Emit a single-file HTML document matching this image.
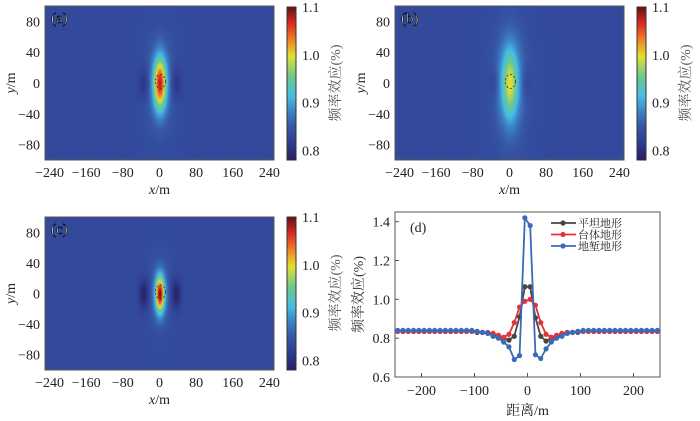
<!DOCTYPE html>
<html><head><meta charset="utf-8">
<style>
body{margin:0;background:#fff;width:700px;height:421px;overflow:hidden;position:relative;font-family:"Liberation Serif","Noto Serif CJK SC",serif}
canvas{position:absolute}
svg{position:absolute;left:0;top:0}
</style></head><body>
<canvas id="ha" width="229" height="154" style="left:45px;top:6px"></canvas>
<canvas id="hb" width="229" height="154" style="left:395px;top:6px"></canvas>
<canvas id="hc" width="229" height="153" style="left:45px;top:217px"></canvas>
<canvas id="cb1" width="9" height="153" style="left:287px;top:7px"></canvas>
<canvas id="cb2" width="9" height="153" style="left:637px;top:7px"></canvas>
<canvas id="cb3" width="9" height="153" style="left:287px;top:217px"></canvas>
<svg id="s" width="700" height="421"></svg>
<script>
// ---- Heatmap panel parameters ----
const hmPeak=[1.08,1.0,1.1];
const hmSigX=[13,16,9];
const hmSigY=[32,42,22];
const hmHalo=[0.06,0.07,0.07];
const hmDip=[0.035,0.02,0.05];
const hmBase=0.835;
const cbTicks=[0.8,0.9,1.0,1.1];
const xTicksMap=[-240,-160,-80,0,80,160,240];
const yTicksMap=[80,40,0,-40,-80];
// ---- Line chart data ----
const dist=[];for(let i=0;i<50;i++)dist.push(-245+10*i);
const flat=[0.835,0.835,0.835,0.835,0.835,0.835,0.835,0.835,0.835,0.835,0.835,0.835,0.835,0.835,0.835,0.83,0.83,0.825,0.82,0.81,0.80,0.79,0.81,0.91,1.065,1.065,0.905,0.81,0.785,0.80,0.81,0.82,0.825,0.83,0.83,0.835,0.835,0.835,0.835,0.835,0.835,0.835,0.835,0.835,0.835,0.835,0.835,0.835,0.835,0.835];
const mesa=[0.835,0.835,0.835,0.835,0.835,0.835,0.835,0.835,0.835,0.835,0.835,0.835,0.835,0.835,0.835,0.835,0.83,0.83,0.825,0.815,0.805,0.82,0.88,0.96,0.99,1.0,0.97,0.88,0.82,0.805,0.815,0.825,0.83,0.83,0.835,0.835,0.835,0.835,0.835,0.835,0.835,0.835,0.835,0.835,0.835,0.835,0.835,0.835,0.835,0.835];
const trench=[0.84,0.84,0.84,0.84,0.84,0.84,0.84,0.84,0.84,0.84,0.84,0.84,0.84,0.84,0.84,0.835,0.83,0.825,0.81,0.80,0.78,0.755,0.69,0.71,1.42,1.38,0.715,0.695,0.745,0.78,0.80,0.81,0.825,0.83,0.835,0.84,0.84,0.84,0.84,0.84,0.84,0.84,0.84,0.84,0.84,0.84,0.84,0.84,0.84,0.84];
const yTicksD=[0.6,0.8,1.0,1.2,1.4];
const xTicksD=[-200,-100,0,100,200];
const legendNames=["平坦地形","台体地形","地堑地形"];

const stops=[[0,[40,30,100]],[0.12,[48,62,148]],[0.22,[54,86,164]],[0.32,[60,130,200]],[0.42,[70,190,225]],[0.55,[110,200,140]],[0.68,[225,225,50]],[0.8,[240,120,35]],[0.9,[215,40,38]],[1,[100,20,18]]];
function cmap(v){let t=(v-0.78)/(1.1-0.78);t=Math.max(0,Math.min(1,t));
 for(let i=1;i<stops.length;i++){if(t<=stops[i][0]){const a=stops[i-1],b=stops[i],f=(t-a[0])/(b[0]-a[0]);return a[1].map((c,k)=>Math.round(c+(b[1][k]-c)*f));}}return stops[stops.length-1][1];}
function sq(a){return a*a;}
function drawHeat(id,p){const c=document.getElementById(id),g=c.getContext('2d'),W=c.width,H=c.height,im=g.createImageData(W,H);
 for(let j=0;j<H;j++)for(let i=0;i<W;i++){const x=-250+500*i/W,y=100-200*j/H;
  const core=Math.exp(-sq(x/hmSigX[p])-sq(y/hmSigY[p]));
  const halo=Math.exp(-sq(x/(hmSigX[p]*2.0))-sq(y/(hmSigY[p]*1.6)));
  const dip=Math.exp(-sq((Math.abs(x)-35)/12)-sq(y/20));
  const v=hmBase+(hmPeak[p]-hmBase-hmHalo[p])*core+hmHalo[p]*halo-hmDip[p]*dip;
  const col=cmap(v),k=4*(j*W+i);im.data[k]=col[0];im.data[k+1]=col[1];im.data[k+2]=col[2];im.data[k+3]=255;}
 g.putImageData(im,0,0);}
function drawCb(id){const c=document.getElementById(id),g=c.getContext('2d');for(let j=0;j<c.height;j++){const v=1.1-(1.1-0.78)*j/c.height;const col=cmap(v);g.fillStyle='rgb('+col.join(',')+')';g.fillRect(0,j,c.width,1);}}
drawHeat('ha',0);drawHeat('hb',1);drawHeat('hc',2);drawCb('cb1');drawCb('cb2');drawCb('cb3');

const NS='http://www.w3.org/2000/svg',svg=document.getElementById('s');
function el(t,a,txt){const e=document.createElementNS(NS,t);for(const k in a)e.setAttribute(k,a[k]);if(txt!=null)e.textContent=txt;svg.appendChild(e);return e;}
function mapPanel(L,T,W,H,cbx,cbT,tag,letter){
 const mx=v=>L+(v+250)/500*W,my=v=>T+(100-v)/200*H;
 let r=el('rect',{x:L,y:T,width:W,height:H,fill:'none',stroke:'#555','stroke-width':1});
 
 xTicksMap.forEach(v=>{let t=el('text',{x:mx(v),y:T+H+17,'font-size':14,'text-anchor':'middle',fill:'#222'},(v<0?'−':'')+Math.abs(v));
  
  el('line',{x1:mx(v),x2:mx(v),y1:T+H,y2:T+H-3,stroke:'#555'});});
 yTicksMap.forEach(v=>{let t=el('text',{x:L-5,y:my(v)+5,'font-size':14,'text-anchor':'end',fill:'#222'},(v<0?'−':'')+Math.abs(v));
  });
 let xt=el('text',{x:L+W/2,y:T+H+34,'font-size':14,'text-anchor':'middle',fill:'#222'});xt.innerHTML='<tspan font-style="italic">x</tspan>/m';
 
 let yt=el('text',{transform:'translate('+(L-30)+','+(T+H/2)+') rotate(-90)','font-size':14,'text-anchor':'middle',fill:'#222'});yt.innerHTML='<tspan font-style="italic">y</tspan>/m';
 
 let lb=el('text',{x:L+6,y:T+17,'font-size':15,fill:'#fff',stroke:'#111','stroke-width':0.7},letter);
 
 el('ellipse',{cx:mx(2),cy:my(2),rx:5,ry:7,fill:'none',stroke:'#333','stroke-dasharray':'2,2','stroke-width':0.8});
 el('rect',{x:cbx,y:cbT,width:9,height:153,fill:'none',stroke:'#333'});
 cbTicks.forEach(v=>{const y=cbT+(1.1-v)/(0.32)*153;
  let t=el('text',{x:cbx+15,y:y+5,'font-size':14,fill:'#222'},v.toFixed(1));
  });
 let ct=el('text',{transform:'translate('+(cbx+53)+','+(cbT+76)+') rotate(-90)','font-size':14,'text-anchor':'middle',fill:'#555'},'频率效应(%)');
 
}
mapPanel(45,6,229,154,287,7,'a','(a)');
mapPanel(395,6,229,154,637,7,'b','(b)');
mapPanel(45,217,229,153,287,217,'c','(c)');

// panel d
const PL=395,PR=660,PT=212,PB=377;
const dx=v=>PL+(v+250)/500*(PR-PL),dy=v=>PB-(v-0.6)/0.85*(PB-PT);
let fr=el('rect',{x:PL,y:PT,width:PR-PL,height:PB-PT,fill:'#fff',stroke:'#555'});

xTicksD.forEach(v=>{el('line',{x1:dx(v),x2:dx(v),y1:PB,y2:PB-4,stroke:'#555'});
 let t=el('text',{x:dx(v),y:PB+18,'font-size':14,'text-anchor':'middle',fill:'#222'},(v<0?'−':'')+Math.abs(v));
 });
yTicksD.forEach(v=>{el('line',{x1:PL,x2:PL+4,y1:dy(v),y2:dy(v),stroke:'#555'});
 let t=el('text',{x:PL-5,y:dy(v)+5,'font-size':14,'text-anchor':'end',fill:'#222'},v.toFixed(1));
 });
let xtd=el('text',{x:(PL+PR)/2,y:415,'font-size':14,'text-anchor':'middle',fill:'#222'},'距离/m');

let ytd=el('text',{transform:'translate('+(PL-32)+','+((PT+PB)/2)+') rotate(-90)','font-size':14,'text-anchor':'middle',fill:'#333'},'频率效应(%)');

let pd=el('text',{x:410,y:232,'font-size':14,fill:'#222'},'(d)');

const series=[[flat,'#4a4440'],[mesa,'#e0333a'],[trench,'#3a6ab8']];
series.forEach((s,k)=>{const pts=dist.map((d,i)=>dx(d)+','+dy(s[0][i])).join(' ');
 let pl=el('polyline',{points:pts,fill:'none',stroke:s[1],'stroke-width':1.8});
 
 dist.forEach((d,i)=>{let c=el('circle',{cx:dx(d),cy:dy(s[0][i]),r:2.6,fill:s[1]});
  });
 const ly=223+k*11.5;
 el('line',{x1:551,x2:576,y1:ly,y2:ly,stroke:s[1],'stroke-width':1.8});
 el('circle',{cx:563,cy:ly,r:2.6,fill:s[1]});
 let lt=el('text',{x:578,y:ly+4,'font-size':11,fill:'#222'},legendNames[k]);
 });
</script>
</body></html>
